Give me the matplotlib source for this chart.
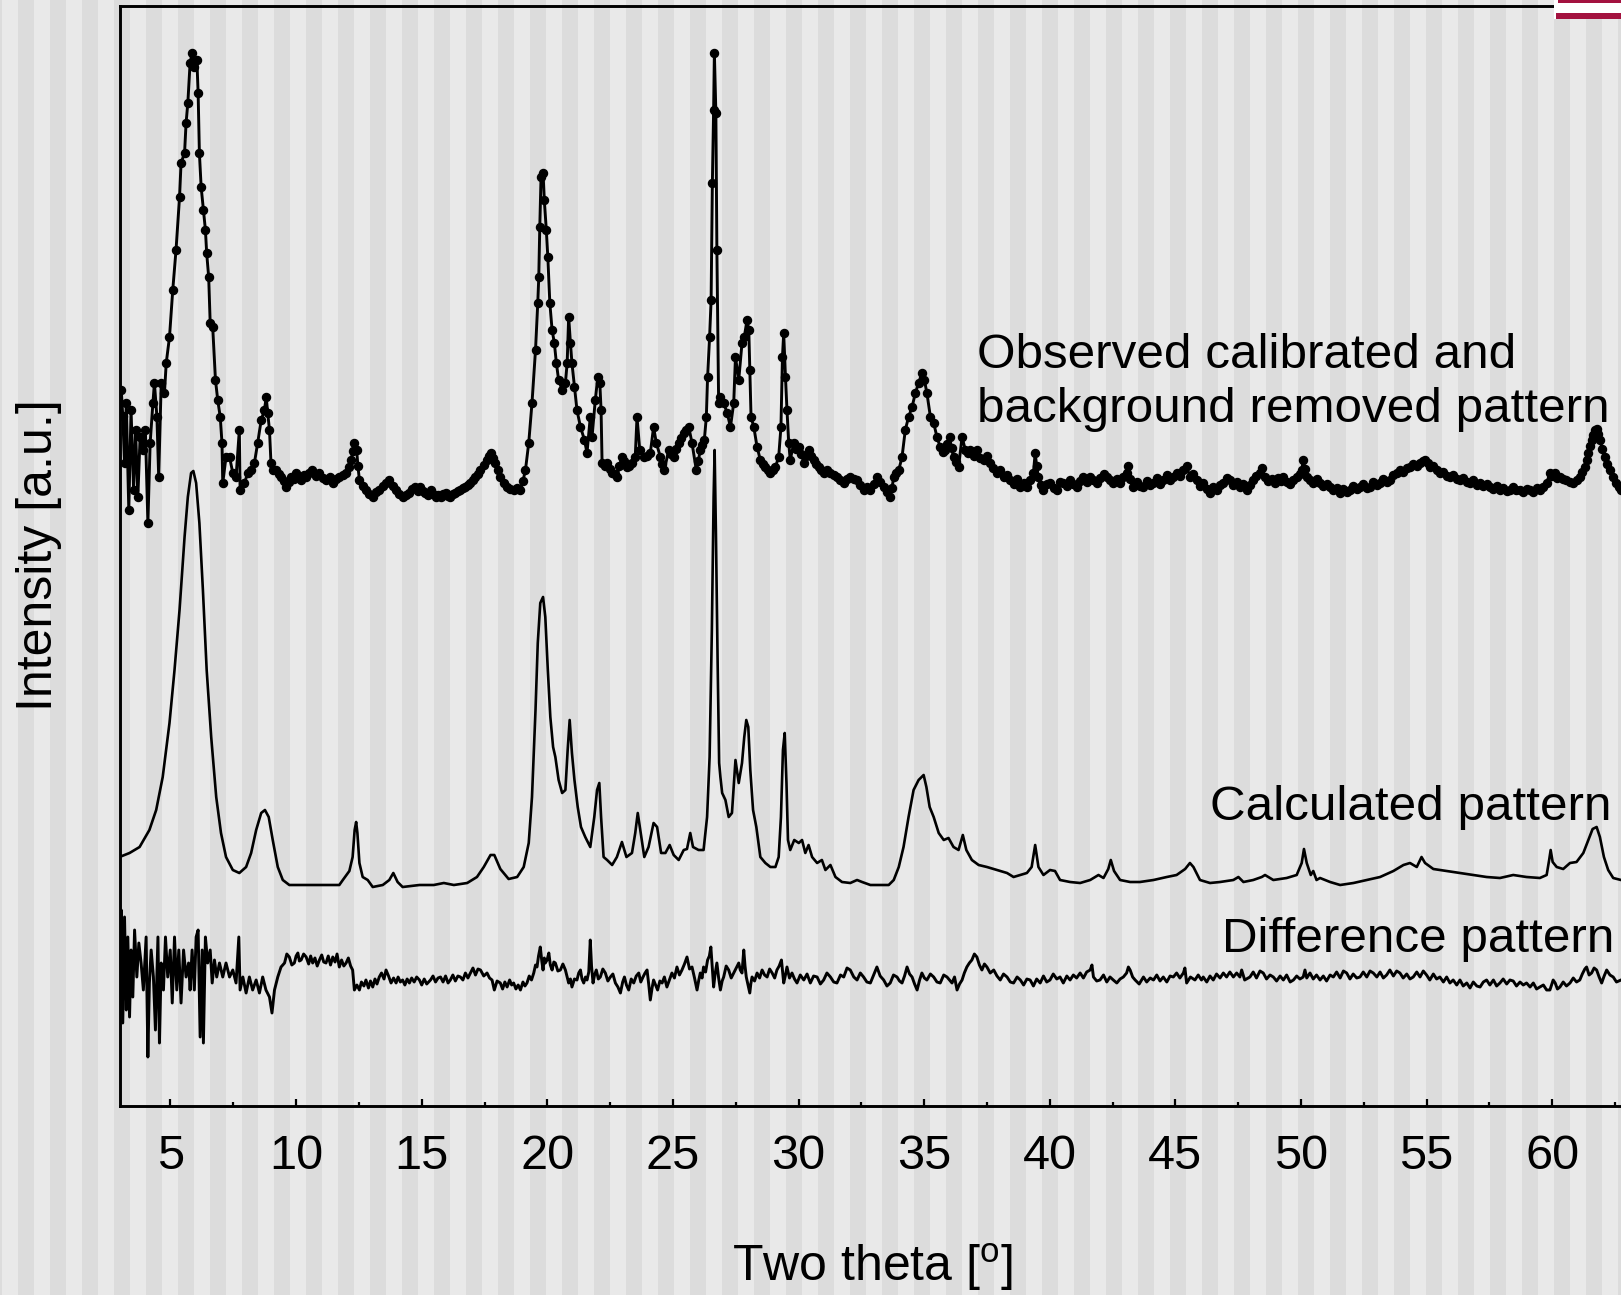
import matplotlib
matplotlib.use("Agg")
import matplotlib.pyplot as plt
from matplotlib.patches import Rectangle
from matplotlib.ticker import MultipleLocator

plt.rcParams['font.family'] = ['Liberation Sans', 'DejaVu Sans']
plt.rcParams['mathtext.fontset'] = 'custom'
plt.rcParams['mathtext.rm'] = 'Liberation Sans'

# observed pattern: (two theta, intensity a.u.)
obs_points = [
    (3.04, 716), (3.10, 690), (3.17, 643), (3.24, 703), (3.34, 596), (3.43, 696), (3.53, 616),
    (3.61, 676), (3.70, 609), (3.79, 669), (3.90, 656), (4.00, 676), (4.10, 583), (4.19, 663),
    (4.30, 703), (4.36, 723), (4.46, 689), (4.53, 629), (4.63, 723), (4.76, 713), (4.83, 743),
    (4.96, 769), (5.09, 816), (5.22, 856), (5.36, 909), (5.42, 943), (5.56, 953), (5.62, 983),
    (5.69, 1003), (5.78, 1043), (5.86, 1053), (5.95, 1039), (6.05, 1046), (6.10, 1013),
    (6.15, 953), (6.22, 919), (6.31, 896), (6.39, 876), (6.44, 853), (6.52, 829), (6.58, 783),
    (6.68, 779), (6.79, 726), (6.88, 706), (6.98, 689), (7.05, 663), (7.08, 623), (7.21, 649),
    (7.35, 649), (7.48, 633), (7.61, 629), (7.74, 676), (7.77, 616), (7.94, 623), (8.08, 633),
    (8.21, 636), (8.34, 643), (8.47, 663), (8.61, 686), (8.74, 696), (8.81, 709), (8.87, 693),
    (8.94, 676), (9.00, 643), (9.10, 636), (9.20, 636), (9.30, 632), (9.40, 629), (9.50, 625),
    (9.60, 619), (9.70, 624), (9.80, 629), (9.90, 627), (10.00, 633), (10.10, 629),
    (10.20, 626), (10.30, 631), (10.40, 629), (10.52, 633), (10.65, 636), (10.78, 630),
    (10.93, 633), (11.06, 628), (11.20, 626), (11.33, 629), (11.46, 623), (11.58, 627),
    (11.70, 629), (11.85, 631), (11.99, 633), (12.10, 639), (12.19, 646), (12.26, 655),
    (12.32, 663), (12.41, 656), (12.46, 640), (12.52, 626), (12.65, 620), (12.78, 616),
    (12.91, 612), (13.05, 609), (13.18, 614), (13.31, 616), (13.45, 620), (13.58, 623),
    (13.71, 626), (13.85, 620), (13.98, 616), (14.11, 612), (14.24, 609), (14.38, 611),
    (14.51, 613), (14.63, 617), (14.75, 619), (14.85, 615), (14.95, 619), (15.05, 615),
    (15.15, 613), (15.25, 611), (15.35, 616), (15.45, 612), (15.55, 609), (15.65, 611),
    (15.75, 609), (15.85, 612), (15.95, 613), (16.05, 610), (16.14, 609), (16.24, 612),
    (16.34, 613), (16.44, 615), (16.54, 616), (16.64, 618), (16.74, 619), (16.84, 621),
    (16.94, 623), (17.04, 626), (17.14, 629), (17.24, 632), (17.34, 636), (17.47, 641),
    (17.60, 646), (17.68, 650), (17.76, 653), (17.85, 648), (17.93, 643), (18.03, 636),
    (18.13, 629), (18.27, 623), (18.40, 619), (18.53, 617), (18.66, 616), (18.80, 618),
    (18.93, 616), (19.03, 625), (19.13, 636), (19.26, 663), (19.39, 703), (19.53, 756),
    (19.62, 803), (19.66, 829), (19.70, 879), (19.75, 929), (19.83, 933), (19.88, 906),
    (19.96, 876), (20.02, 849), (20.10, 803), (20.19, 776), (20.28, 763), (20.36, 743),
    (20.45, 726), (20.59, 716), (20.72, 723), (20.79, 743), (20.85, 789), (20.92, 763),
    (20.98, 743), (21.08, 719), (21.18, 696), (21.32, 679), (21.48, 666), (21.58, 653),
    (21.71, 689), (21.78, 669), (21.91, 706), (22.01, 729), (22.09, 723), (22.14, 696),
    (22.18, 643), (22.28, 640), (22.38, 643), (22.48, 637), (22.58, 633), (22.68, 632),
    (22.77, 629), (22.87, 640), (22.97, 649), (23.07, 645), (23.17, 639), (23.27, 640),
    (23.37, 643), (23.50, 649), (23.57, 689), (23.68, 656), (23.84, 649), (23.97, 650),
    (24.10, 653), (24.23, 679), (24.34, 663), (24.50, 649), (24.58, 642), (24.66, 636),
    (24.83, 656), (24.93, 652), (25.03, 649), (25.13, 657), (25.23, 663), (25.33, 668),
    (25.43, 673), (25.53, 676), (25.63, 679), (25.76, 663), (25.93, 636), (26.01, 645),
    (26.09, 656), (26.17, 661), (26.25, 666), (26.33, 689), (26.38, 729), (26.46, 769),
    (26.52, 806), (26.57, 923), (26.62, 996), (26.65, 1053), (26.71, 993), (26.75, 856),
    (26.82, 703), (26.89, 709), (27.02, 703), (27.16, 693), (27.29, 679), (27.42, 703),
    (27.49, 749), (27.62, 726), (27.75, 763), (27.84, 769), (27.95, 786), (28.02, 776),
    (28.06, 736), (28.11, 689), (28.22, 679), (28.35, 659), (28.48, 646), (28.58, 642),
    (28.68, 639), (28.78, 636), (28.88, 633), (28.98, 636), (29.08, 639), (29.21, 649),
    (29.30, 679), (29.36, 749), (29.41, 773), (29.48, 729), (29.54, 696), (29.61, 663),
    (29.67, 646), (29.81, 663), (29.91, 657), (30.01, 659), (30.11, 652), (30.21, 643),
    (30.30, 650), (30.40, 656), (30.50, 650), (30.60, 646), (30.70, 642), (30.80, 639),
    (30.90, 636), (31.00, 633), (31.13, 636), (31.27, 633), (31.40, 631), (31.53, 629),
    (31.67, 626), (31.80, 623), (31.93, 627), (32.06, 629), (32.20, 627), (32.33, 626),
    (32.46, 621), (32.59, 616), (32.72, 619), (32.86, 616), (32.99, 622), (33.12, 629),
    (33.25, 624), (33.39, 619), (33.52, 614), (33.65, 609), (33.72, 618), (33.79, 629),
    (33.89, 633), (33.99, 636), (34.12, 649), (34.25, 676), (34.38, 689), (34.52, 699),
    (34.65, 713), (34.78, 723), (34.91, 733), (35.01, 726), (35.11, 713), (35.25, 689),
    (35.38, 683), (35.51, 669), (35.64, 659), (35.74, 654), (35.84, 656), (35.92, 662),
    (36.01, 669), (36.09, 658), (36.17, 649), (36.27, 644), (36.37, 639), (36.51, 669),
    (36.64, 656), (36.74, 653), (36.84, 656), (36.97, 650), (37.10, 656), (37.23, 648),
    (37.37, 646), (37.50, 650), (37.63, 643), (37.76, 638), (37.90, 633), (38.03, 636),
    (38.16, 629), (38.30, 631), (38.43, 626), (38.56, 622), (38.70, 627), (38.83, 619),
    (38.96, 623), (39.09, 619), (39.22, 626), (39.35, 633), (39.42, 653), (39.48, 640),
    (39.55, 629), (39.65, 621), (39.75, 616), (39.88, 622), (40.01, 623), (40.15, 618),
    (40.28, 616), (40.41, 624), (40.54, 623), (40.68, 620), (40.81, 626), (40.94, 622),
    (41.07, 619), (41.20, 625), (41.34, 629), (41.47, 624), (41.61, 629), (41.74, 626),
    (41.87, 623), (42.00, 628), (42.14, 632), (42.27, 629), (42.40, 626), (42.53, 623),
    (42.67, 627), (42.80, 623), (42.93, 629), (43.06, 633), (43.13, 640), (43.20, 627),
    (43.33, 619), (43.46, 624), (43.60, 620), (43.73, 619), (43.86, 625), (44.00, 621),
    (44.13, 623), (44.26, 628), (44.39, 622), (44.52, 626), (44.66, 631), (44.79, 626),
    (44.92, 629), (45.05, 633), (45.18, 630), (45.32, 636), (45.45, 640), (45.58, 629),
    (45.72, 632), (45.85, 626), (45.98, 620), (46.11, 623), (46.25, 617), (46.38, 613),
    (46.51, 619), (46.64, 616), (46.78, 621), (46.91, 623), (47.04, 628), (47.17, 626),
    (47.30, 621), (47.44, 624), (47.57, 619), (47.70, 622), (47.84, 616), (47.97, 621),
    (48.10, 626), (48.23, 630), (48.37, 633), (48.45, 638), (48.57, 629), (48.70, 625),
    (48.83, 627), (48.96, 623), (49.08, 628), (49.19, 625), (49.30, 629), (49.43, 624),
    (49.57, 622), (49.70, 626), (49.83, 629), (49.96, 632), (50.03, 636), (50.09, 646),
    (50.16, 637), (50.23, 629), (50.36, 626), (50.49, 623), (50.62, 627), (50.76, 623),
    (50.89, 620), (51.02, 622), (51.16, 619), (51.29, 616), (51.42, 618), (51.56, 613),
    (51.69, 617), (51.82, 614), (51.95, 616), (52.08, 620), (52.22, 617), (52.35, 619),
    (52.48, 622), (52.62, 618), (52.75, 619), (52.88, 624), (53.02, 621), (53.15, 623),
    (53.28, 627), (53.41, 624), (53.54, 626), (53.68, 631), (53.81, 633), (53.94, 636),
    (54.07, 634), (54.21, 638), (54.34, 639), (54.47, 642), (54.61, 640), (54.74, 643),
    (54.84, 645), (54.94, 646), (55.04, 643), (55.14, 639), (55.27, 640), (55.40, 636),
    (55.53, 633), (55.67, 634), (55.80, 630), (55.93, 629), (56.06, 631), (56.20, 627),
    (56.33, 626), (56.46, 628), (56.60, 624), (56.73, 623), (56.86, 626), (57.00, 621),
    (57.13, 623), (57.26, 620), (57.39, 622), (57.52, 619), (57.66, 617), (57.79, 620),
    (57.92, 616), (58.05, 618), (58.19, 615), (58.32, 616), (58.45, 619), (58.58, 616),
    (58.72, 616), (58.85, 614), (58.98, 617), (59.12, 616), (59.25, 614), (59.38, 618),
    (59.51, 616), (59.65, 619), (59.78, 623), (59.91, 633), (60.01, 630), (60.11, 633),
    (60.21, 628), (60.31, 629), (60.44, 627), (60.57, 626), (60.71, 624), (60.84, 623),
    (60.97, 626), (61.10, 629), (61.20, 634), (61.30, 639), (61.37, 646), (61.44, 653),
    (61.50, 660), (61.57, 666), (61.63, 671), (61.70, 676), (61.77, 677), (61.83, 672),
    (61.90, 666), (62.00, 657), (62.10, 649), (62.20, 642), (62.30, 636), (62.43, 629),
    (62.56, 623), (62.65, 619), (62.74, 616),
]

# calculated pattern
calc_points = [
    (2.97, 249), (3.37, 253), (3.77, 259), (4.16, 276), (4.43, 296), (4.69, 329), (4.96, 383),
    (5.16, 436), (5.36, 496), (5.56, 569), (5.69, 609), (5.82, 633), (5.91, 635), (6.02, 623),
    (6.15, 583), (6.29, 516), (6.44, 436), (6.62, 369), (6.82, 309), (7.01, 273), (7.21, 249),
    (7.48, 236), (7.74, 233), (8.01, 239), (8.21, 253), (8.41, 276), (8.61, 293), (8.76, 296),
    (8.91, 289), (9.07, 266), (9.27, 239), (9.47, 226), (9.73, 221), (10.13, 221),
    (10.93, 221), (11.72, 221), (11.86, 226), (12.12, 235), (12.25, 249), (12.33, 276),
    (12.39, 284), (12.44, 273), (12.52, 243), (12.65, 229), (12.85, 226), (13.05, 219),
    (13.45, 221), (13.71, 226), (13.87, 233), (14.04, 224), (14.24, 219), (14.91, 221),
    (15.48, 221), (15.88, 223), (16.28, 221), (16.81, 223), (17.20, 229), (17.47, 239),
    (17.74, 251), (17.89, 251), (18.13, 237), (18.46, 227), (18.80, 229), (19.06, 239),
    (19.26, 263), (19.39, 309), (19.53, 396), (19.62, 463), (19.72, 503), (19.83, 509),
    (19.92, 489), (20.02, 436), (20.12, 389), (20.23, 359), (20.32, 349), (20.45, 326),
    (20.59, 313), (20.72, 316), (20.81, 356), (20.89, 386), (20.98, 353), (21.08, 326),
    (21.21, 299), (21.34, 279), (21.51, 269), (21.71, 259), (21.87, 289), (21.98, 316),
    (22.07, 323), (22.14, 289), (22.24, 249), (22.38, 246), (22.58, 241), (22.77, 249),
    (22.97, 264), (23.15, 249), (23.37, 253), (23.50, 273), (23.60, 293), (23.70, 276),
    (23.86, 249), (24.03, 259), (24.23, 283), (24.37, 279), (24.53, 253), (24.70, 253),
    (24.87, 261), (25.03, 251), (25.23, 246), (25.43, 256), (25.56, 257), (25.69, 273),
    (25.80, 259), (26.02, 256), (26.22, 256), (26.36, 289), (26.46, 349), (26.55, 476),
    (26.62, 609), (26.66, 656), (26.71, 576), (26.78, 443), (26.84, 343), (26.89, 329),
    (26.96, 313), (27.09, 306), (27.22, 289), (27.35, 293), (27.49, 346), (27.62, 323),
    (27.75, 343), (27.84, 369), (27.92, 386), (28.00, 379), (28.08, 336), (28.19, 296),
    (28.32, 279), (28.48, 249), (28.68, 243), (28.88, 239), (29.08, 239), (29.21, 249),
    (29.30, 289), (29.38, 356), (29.45, 373), (29.52, 323), (29.58, 266), (29.67, 256),
    (29.83, 266), (30.01, 263), (30.14, 266), (30.27, 253), (30.40, 261), (30.54, 249),
    (30.74, 243), (30.93, 246), (31.07, 236), (31.27, 241), (31.47, 229), (31.73, 224),
    (32.06, 223), (32.33, 226), (32.53, 224), (32.86, 221), (33.26, 221), (33.59, 221),
    (33.79, 226), (33.99, 239), (34.18, 259), (34.38, 289), (34.58, 316), (34.78, 326),
    (34.98, 331), (35.09, 319), (35.22, 299), (35.38, 289), (35.58, 273), (35.78, 266),
    (35.97, 268), (36.17, 259), (36.37, 256), (36.54, 271), (36.68, 256), (36.90, 246),
    (37.17, 241), (37.50, 239), (37.90, 236), (38.30, 233), (38.56, 229), (38.83, 231),
    (39.09, 233), (39.28, 239), (39.42, 261), (39.55, 239), (39.75, 231), (40.01, 236),
    (40.21, 235), (40.41, 226), (40.81, 224), (41.21, 223), (41.61, 226), (41.94, 231),
    (42.14, 228), (42.33, 237), (42.43, 246), (42.56, 235), (42.80, 226), (43.20, 224),
    (43.59, 224), (44.13, 226), (44.66, 229), (45.05, 231), (45.39, 237), (45.58, 243),
    (45.72, 239), (45.98, 226), (46.38, 223), (46.78, 224), (47.31, 226), (47.51, 229),
    (47.71, 224), (48.10, 226), (48.44, 229), (48.57, 231), (48.90, 226), (49.43, 228),
    (49.83, 231), (50.03, 243), (50.12, 257), (50.23, 243), (50.39, 231), (50.49, 235),
    (50.62, 226), (50.76, 228), (51.16, 224), (51.56, 221), (52.09, 223), (52.62, 226),
    (53.15, 229), (53.68, 235), (54.08, 241), (54.34, 243), (54.61, 239), (54.80, 249),
    (54.94, 243), (55.27, 237), (55.80, 235), (56.33, 233), (56.86, 231), (57.39, 229),
    (57.92, 228), (58.45, 231), (58.98, 229), (59.51, 228), (59.78, 231), (59.88, 246),
    (59.94, 256), (60.02, 244), (60.18, 239), (60.44, 237), (60.71, 243), (60.97, 244),
    (61.24, 253), (61.44, 266), (61.61, 277), (61.77, 279), (61.90, 269), (62.06, 249),
    (62.23, 236), (62.43, 228), (62.74, 226),
]

# difference pattern
diff_points = [
    (2.97, 156), (3.04, 196), (3.10, 83), (3.17, 189), (3.24, 96), (3.30, 169), (3.37, 89),
    (3.43, 156), (3.50, 109), (3.57, 176), (3.66, 129), (3.74, 163), (3.83, 143), (3.92, 116),
    (4.03, 169), (4.10, 49), (4.16, 123), (4.23, 156), (4.32, 129), (4.40, 76), (4.50, 169),
    (4.56, 63), (4.63, 143), (4.72, 116), (4.80, 169), (4.89, 129), (4.99, 156), (5.07, 103),
    (5.16, 169), (5.25, 116), (5.33, 156), (5.42, 103), (5.52, 156), (5.62, 129), (5.72, 143),
    (5.78, 116), (5.86, 156), (5.95, 116), (6.02, 169), (6.10, 176), (6.18, 69), (6.26, 156),
    (6.31, 63), (6.39, 169), (6.48, 143), (6.58, 156), (6.66, 123), (6.75, 146), (6.84, 129),
    (6.95, 143), (7.08, 129), (7.21, 143), (7.35, 129), (7.48, 136), (7.61, 123), (7.72, 169),
    (7.77, 116), (7.88, 129), (8.01, 113), (8.14, 129), (8.27, 116), (8.41, 126), (8.54, 113),
    (8.67, 129), (8.80, 116), (8.94, 109), (9.04, 93), (9.14, 116), (9.27, 129), (9.40, 139),
    (9.54, 143), (9.63, 152), (9.73, 149), (9.83, 141), (9.93, 143), (10.00, 150),
    (10.07, 153), (10.13, 145), (10.20, 146), (10.30, 152), (10.40, 149), (10.50, 142),
    (10.58, 150), (10.66, 143), (10.75, 148), (10.84, 140), (10.93, 146), (11.02, 151),
    (11.10, 144), (11.19, 143), (11.28, 150), (11.37, 141), (11.46, 149), (11.55, 144),
    (11.63, 152), (11.72, 139), (11.81, 146), (11.90, 140), (11.99, 143), (12.08, 148),
    (12.17, 140), (12.25, 136), (12.32, 116), (12.42, 121), (12.52, 116), (12.60, 124),
    (12.70, 120), (12.78, 126), (12.88, 118), (12.96, 125), (13.05, 119), (13.14, 127),
    (13.22, 122), (13.31, 129), (13.40, 133), (13.50, 127), (13.58, 136), (13.68, 130),
    (13.78, 123), (13.88, 128), (13.98, 123), (14.06, 129), (14.15, 124), (14.24, 126),
    (14.33, 121), (14.42, 127), (14.51, 123), (14.60, 128), (14.70, 124), (14.80, 129),
    (14.91, 126), (15.00, 121), (15.10, 127), (15.20, 122), (15.35, 126), (15.45, 130),
    (15.55, 124), (15.65, 128), (15.75, 129), (15.85, 124), (15.95, 130), (16.05, 123),
    (16.14, 126), (16.24, 131), (16.34, 125), (16.44, 130), (16.54, 129), (16.64, 126),
    (16.74, 133), (16.84, 128), (16.94, 133), (17.04, 138), (17.14, 131), (17.24, 137),
    (17.34, 136), (17.47, 130), (17.60, 133), (17.70, 128), (17.80, 126), (17.89, 116),
    (18.00, 125), (18.13, 123), (18.22, 117), (18.31, 124), (18.40, 119), (18.50, 126),
    (18.58, 121), (18.66, 123), (18.75, 117), (18.84, 121), (18.93, 116), (19.03, 124),
    (19.11, 120), (19.19, 123), (19.28, 130), (19.37, 126), (19.46, 133), (19.53, 141),
    (19.59, 139), (19.65, 150), (19.72, 159), (19.78, 145), (19.83, 136), (19.88, 148),
    (19.92, 143), (19.99, 146), (20.06, 153), (20.12, 141), (20.19, 136), (20.26, 144),
    (20.32, 143), (20.42, 135), (20.52, 136), (20.62, 142), (20.72, 136), (20.78, 130),
    (20.85, 123), (20.92, 127), (20.98, 119), (21.08, 127), (21.18, 126), (21.25, 133),
    (21.32, 136), (21.38, 127), (21.45, 123), (21.52, 129), (21.58, 126), (21.65, 134),
    (21.71, 166), (21.76, 140), (21.82, 123), (21.88, 131), (21.95, 136), (22.03, 127),
    (22.11, 129), (22.21, 137), (22.31, 133), (22.41, 125), (22.51, 129), (22.61, 132),
    (22.71, 123), (22.81, 119), (22.91, 113), (23.00, 124), (23.07, 129), (23.15, 121),
    (23.24, 116), (23.34, 127), (23.44, 123), (23.54, 130), (23.64, 133), (23.72, 124),
    (23.81, 129), (23.89, 133), (23.97, 136), (24.04, 121), (24.10, 106), (24.17, 118),
    (24.23, 126), (24.31, 121), (24.39, 116), (24.48, 125), (24.57, 123), (24.66, 129),
    (24.76, 119), (24.86, 126), (24.96, 133), (25.06, 128), (25.16, 139), (25.26, 131),
    (25.36, 136), (25.46, 142), (25.56, 149), (25.66, 137), (25.76, 139), (25.86, 128),
    (25.96, 116), (26.03, 126), (26.09, 133), (26.16, 128), (26.22, 139), (26.30, 134),
    (26.38, 146), (26.45, 150), (26.51, 159), (26.57, 137), (26.62, 119), (26.68, 132),
    (26.75, 143), (26.82, 128), (26.89, 116), (26.96, 125), (27.02, 129), (27.12, 140),
    (27.22, 136), (27.32, 128), (27.42, 133), (27.52, 138), (27.62, 143), (27.68, 136),
    (27.75, 133), (27.82, 156), (27.87, 140), (27.92, 129), (28.00, 120), (28.06, 113),
    (28.10, 122), (28.15, 129), (28.25, 125), (28.35, 133), (28.45, 128), (28.55, 136),
    (28.65, 131), (28.75, 129), (28.85, 137), (28.95, 133), (29.05, 128), (29.14, 136),
    (29.23, 140), (29.32, 146), (29.37, 133), (29.41, 123), (29.48, 131), (29.54, 139),
    (29.64, 128), (29.74, 133), (29.84, 127), (29.94, 123), (30.07, 131), (30.21, 126),
    (30.34, 132), (30.47, 123), (30.60, 130), (30.74, 129), (30.87, 122), (31.00, 126),
    (31.13, 133), (31.27, 129), (31.40, 124), (31.53, 123), (31.67, 131), (31.80, 129),
    (31.93, 138), (32.06, 136), (32.20, 129), (32.33, 126), (32.46, 133), (32.59, 129),
    (32.72, 124), (32.86, 123), (32.99, 131), (33.12, 139), (33.25, 130), (33.39, 126),
    (33.52, 120), (33.65, 123), (33.78, 131), (33.92, 129), (34.02, 125), (34.12, 123),
    (34.22, 130), (34.32, 139), (34.42, 132), (34.52, 129), (34.62, 122), (34.72, 116),
    (34.82, 126), (34.91, 133), (35.01, 128), (35.11, 126), (35.25, 132), (35.38, 129),
    (35.51, 124), (35.64, 123), (35.78, 131), (35.91, 129), (36.01, 126), (36.11, 123),
    (36.21, 129), (36.31, 116), (36.41, 122), (36.51, 126), (36.60, 133), (36.70, 139),
    (36.80, 143), (36.90, 146), (37.00, 152), (37.10, 149), (37.20, 141), (37.30, 136),
    (37.40, 142), (37.50, 139), (37.63, 133), (37.77, 136), (37.90, 130), (38.03, 126),
    (38.16, 132), (38.30, 129), (38.43, 124), (38.56, 123), (38.70, 129), (38.83, 126),
    (38.96, 121), (39.09, 127), (39.22, 126), (39.35, 120), (39.48, 127), (39.62, 123),
    (39.75, 130), (39.88, 124), (40.01, 126), (40.14, 132), (40.28, 127), (40.41, 129),
    (40.54, 123), (40.68, 130), (40.81, 126), (40.94, 131), (41.07, 128), (41.21, 133),
    (41.34, 128), (41.47, 134), (41.61, 136), (41.68, 141), (41.74, 129), (41.87, 125),
    (42.00, 126), (42.14, 131), (42.27, 124), (42.40, 129), (42.53, 126), (42.67, 123),
    (42.80, 127), (42.93, 129), (43.06, 133), (43.13, 139), (43.20, 136), (43.30, 129),
    (43.40, 126), (43.56, 122), (43.73, 129), (43.86, 124), (44.00, 128), (44.13, 126),
    (44.26, 131), (44.39, 125), (44.52, 129), (44.66, 124), (44.79, 130), (44.92, 129),
    (45.05, 133), (45.18, 128), (45.32, 133), (45.38, 138), (45.45, 123), (45.60, 129),
    (45.78, 126), (45.91, 131), (46.04, 126), (46.11, 129), (46.25, 124), (46.38, 130),
    (46.51, 126), (46.64, 132), (46.78, 128), (46.91, 133), (47.04, 129), (47.17, 134),
    (47.31, 129), (47.44, 133), (47.57, 129), (47.64, 136), (47.76, 126), (47.97, 129),
    (48.10, 134), (48.23, 128), (48.37, 135), (48.50, 133), (48.63, 127), (48.77, 131),
    (48.90, 129), (49.03, 125), (49.17, 130), (49.30, 126), (49.43, 131), (49.57, 124),
    (49.70, 126), (49.83, 130), (49.96, 127), (50.09, 129), (50.16, 136), (50.23, 128),
    (50.36, 133), (50.49, 127), (50.62, 131), (50.76, 126), (50.89, 130), (51.02, 125),
    (51.16, 131), (51.29, 129), (51.42, 134), (51.56, 128), (51.69, 135), (51.82, 133),
    (51.95, 127), (52.08, 132), (52.22, 128), (52.35, 129), (52.48, 134), (52.62, 129),
    (52.75, 135), (52.88, 133), (53.02, 129), (53.15, 134), (53.28, 128), (53.41, 131),
    (53.54, 136), (53.68, 130), (53.81, 135), (53.94, 133), (54.07, 128), (54.21, 132),
    (54.34, 127), (54.47, 129), (54.61, 134), (54.74, 129), (54.87, 135), (55.00, 131),
    (55.13, 126), (55.27, 132), (55.40, 127), (55.53, 129), (55.67, 124), (55.80, 129),
    (55.93, 123), (56.06, 126), (56.20, 121), (56.33, 126), (56.46, 120), (56.60, 123),
    (56.73, 118), (56.86, 124), (57.00, 120), (57.13, 119), (57.26, 124), (57.39, 126),
    (57.52, 121), (57.66, 126), (57.79, 120), (57.92, 123), (58.05, 127), (58.19, 122),
    (58.32, 126), (58.45, 125), (58.58, 120), (58.72, 124), (58.85, 121), (58.98, 123),
    (59.12, 119), (59.25, 123), (59.38, 117), (59.51, 119), (59.65, 121), (59.78, 116),
    (59.91, 116), (60.04, 126), (60.12, 123), (60.21, 117), (60.31, 119), (60.44, 124),
    (60.57, 120), (60.71, 123), (60.84, 128), (60.97, 124), (61.10, 126), (61.20, 132),
    (61.30, 137), (61.37, 139), (61.47, 131), (61.57, 133), (61.67, 138), (61.77, 136),
    (61.87, 129), (61.97, 123), (62.07, 130), (62.17, 136), (62.30, 131), (62.43, 129),
    (62.56, 124), (62.74, 126),
]

obs_theta, obs_int = zip(*obs_points)
calc_theta, calc_int = zip(*calc_points)
diff_theta, diff_int = zip(*diff_points)

W, H = 1621, 1295
fig = plt.figure(figsize=(W / 100, H / 100), dpi=100)
fig.patch.set_facecolor('#e9e9e9')

# striped page background
for k in range(-1, 52):
    x0 = 18 + 32 * k
    fig.add_artist(Rectangle((x0 / W, 0), 16 / W, 1, transform=fig.transFigure,
                             facecolor='#dcdcdc', edgecolor='none', zorder=-10))

ax = fig.add_axes([119.5 / W, 1 - 1106 / H, 1 - 119.5 / W, (1106 - 6) / H])
ax.patch.set_alpha(0)

ax.plot(obs_theta, obs_int, '-o', color='black', lw=2.1, ms=5.8)
ax.plot(calc_theta, calc_int, '-', color='black', lw=1.9)
ax.plot(diff_theta, diff_int, '-', color='black', lw=2.1)

ax.set_xlim(2.97, 62.74)
ax.set_ylim(0, 1100)
ax.xaxis.set_major_locator(MultipleLocator(5))
ax.xaxis.set_minor_locator(MultipleLocator(2.5))
ax.set_yticks([])
ax.tick_params(axis='x', which='major', direction='in', length=5, width=1.6,
               labelsize=35, pad=20)
ax.tick_params(axis='x', which='minor', direction='in', length=3, width=1.6)
ax.spines['right'].set_visible(False)
for s in ['left', 'top', 'bottom']:
    ax.spines[s].set_linewidth(2.1)

fig.text(39 / W, 1 - 555 / H, 'Intensity [a.u.]', rotation=90, fontsize=36,
         ha='center', va='center')
fig.text(873 / W, 1 - 1267 / H, 'Two theta [$^{\\mathregular{o}}$]', fontsize=36,
         ha='center', va='center')
fig.text(977 / W, 1 - 355 / H, 'Observed calibrated and', fontsize=35.6,
         ha='left', va='center')
fig.text(977 / W, 1 - 410 / H, 'background removed pattern', fontsize=35.6,
         ha='left', va='center')
fig.text(1611 / W, 1 - 807 / H, 'Calculated pattern', fontsize=35.6,
         ha='right', va='center')
fig.text(1614 / W, 1 - 939 / H, 'Difference pattern', fontsize=35.6,
         ha='right', va='center')

# cropped red logo in the top right corner
fig.add_artist(Rectangle((1554 / W, 1 - 19 / H), 67 / W, 19 / H, transform=fig.transFigure,
                         facecolor='white', edgecolor='none', zorder=5))
fig.add_artist(Rectangle((1556 / W, 1 - 18.5 / H), 65 / W, 6 / H, transform=fig.transFigure,
                         facecolor='#a3123f', edgecolor='none', zorder=6))
fig.add_artist(Rectangle((1558 / W, 1 - 3 / H), 63 / W, 3 / H, transform=fig.transFigure,
                         facecolor='#a3123f', edgecolor='none', zorder=6))

fig.savefig('out.png', dpi=100, facecolor=fig.get_facecolor())
